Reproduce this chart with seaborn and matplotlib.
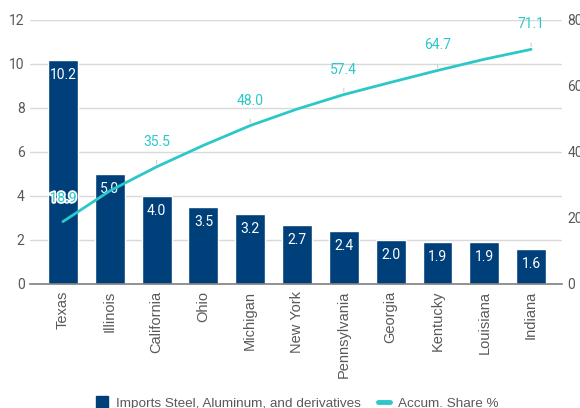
import matplotlib
matplotlib.use("Agg")
import matplotlib.pyplot as plt
import matplotlib.patheffects as pe
from matplotlib.lines import Line2D
from matplotlib.patches import Patch
import seaborn as sns
import pandas as pd

states = ["Texas", "Illinois", "California", "Ohio", "Michigan", "New York",
          "Pennsylvania", "Georgia", "Kentucky", "Louisiana", "Indiana"]
imports = [10.2, 5.0, 4.0, 3.5, 3.2, 2.7, 2.4, 2.0, 1.9, 1.9, 1.6]
accum_share = [18.9, 28.2, 35.5, 42.0, 48.0, 53.0, 57.4, 61.1, 64.7, 68.1, 71.1]
left_ticks = [0, 2, 4, 6, 8, 10, 12]
right_ticks = [0, 20, 40, 60, 80]

bar_name = "Imports Steel, Aluminum, and derivatives"
line_name = "Accum. Share %"
bar_color = "#00407a"
line_color = "#2cc7c9"
text_gray = "#595959"
label_font = ["Liberation Sans", "DejaVu Sans"]

df = pd.DataFrame({"state": states, "imports": imports, "share": accum_share})

sns.set_theme(style="white")
plt.rcParams["font.family"] = ["Roboto", "DejaVu Sans"]

fig = plt.figure(figsize=(5.8, 4.08), dpi=100)
ax = fig.add_axes([0.052, 0.304, 0.917, 0.647])

sns.barplot(data=df, x="state", y="imports", color=bar_color, width=0.64,
            saturation=1, ax=ax, zorder=2)
xlim = (-0.7, len(states) - 0.34)
ax.set_ylim(0, 12)
ax.set_yticks(left_ticks)
ax.set_xlim(*xlim)
ax.grid(axis="y", color="#d9d9d9", linewidth=1, zorder=0)
ax.set_axisbelow(True)
for s in ["top", "right", "left"]:
    ax.spines[s].set_visible(False)
ax.spines["bottom"].set_color("#7f7f7f")
ax.spines["bottom"].set_linewidth(1.2)
ax.tick_params(axis="both", length=0, colors=text_gray, labelsize=10)
ax.tick_params(axis="y", pad=4)
ax.tick_params(axis="x", pad=5)
plt.setp(ax.get_xticklabels(), rotation=90, family=label_font, fontsize=10.5)
ax.set_xlabel("")
ax.set_ylabel("")

for i, v in enumerate(imports):
    ax.annotate(f"{v:.1f}", (i, v), xytext=(0, -11), textcoords="offset points",
                ha="center", va="center", color="white", fontsize=10, zorder=5)

ax2 = ax.twinx()
sns.lineplot(data=df, x="state", y="share", color=line_color, linewidth=2,
             ax=ax2, zorder=3, sort=False)
ax2.set_ylim(0, 80)
ax2.set_yticks(right_ticks)
ax2.set_xlim(*xlim)
for s in ax2.spines.values():
    s.set_visible(False)
ax2.tick_params(axis="y", length=0, colors=text_gray, labelsize=10, pad=4)
ax2.set_ylabel("")
ax2.grid(False)

for i in range(0, len(states), 2):
    v = accum_share[i]
    if i == 0:
        ax2.annotate(f"{v:.1f}", (i, v), xytext=(0, 17), textcoords="offset points",
                     ha="center", va="center", color=line_color, fontsize=10,
                     path_effects=[pe.withStroke(linewidth=2.5, foreground="white")],
                     zorder=6)
    else:
        ax2.annotate(f"{v:.1f}", (i, v), xytext=(0, 18), textcoords="offset points",
                     ha="center", va="center", color=line_color, fontsize=10,
                     arrowprops=dict(arrowstyle="-", color="#d0d0d0", lw=0.8,
                                     shrinkA=6, shrinkB=2),
                     zorder=6)

handles = [Patch(facecolor=bar_color, edgecolor=bar_color),
           Line2D([0], [0], color=line_color, linewidth=3.5)]
fig.legend(handles, [bar_name, line_name], loc="center", bbox_to_anchor=(0.512, 0.012),
           ncol=2, frameon=False, prop={"family": label_font, "size": 9.7},
           labelcolor=text_gray, handlelength=0.9, handleheight=0.9,
           columnspacing=1.25, handletextpad=0.6)

fig.savefig("out.png", dpi=100)
